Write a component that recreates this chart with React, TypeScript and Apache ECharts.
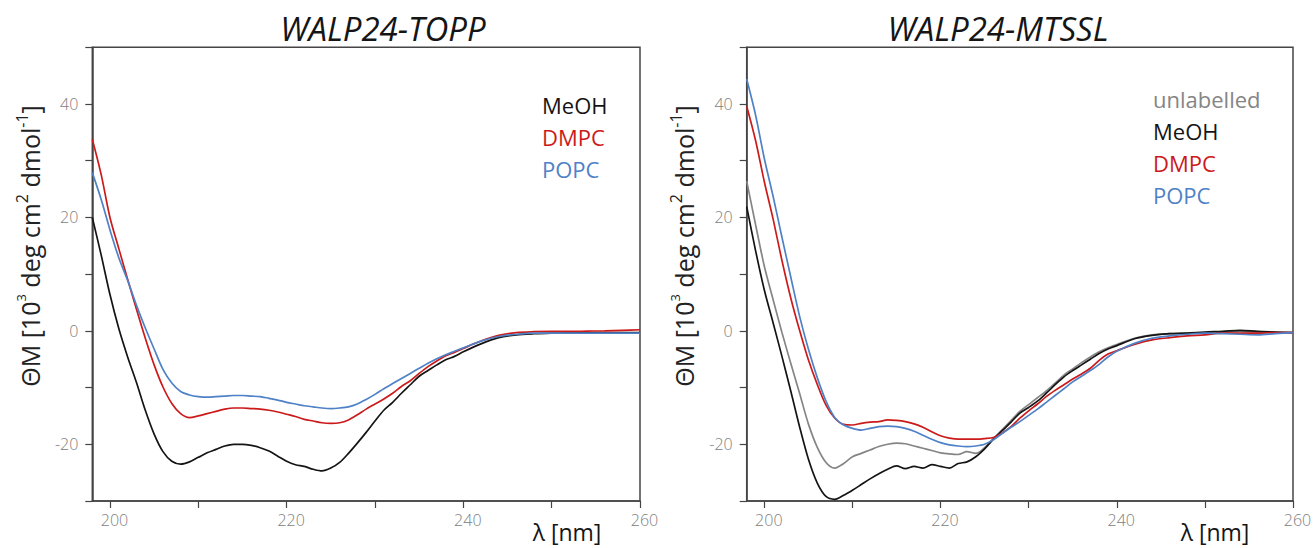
import React, { useEffect, useRef } from "react";
import * as echarts from "echarts";

const FONT = "'Open Sans', 'Noto Sans', sans-serif";

// Wavelength grid (nm)
const LAMBDA = [
  198, 199, 200, 201, 202, 203, 204, 205, 206, 207,
  208, 209, 210, 211, 212, 213, 214, 215, 216, 217,
  218, 219, 220, 221, 222, 223, 224, 225, 226, 227,
  228, 229, 230, 231, 232, 233, 234, 235, 236, 237,
  238, 239, 240, 242, 244, 246, 248, 250, 252, 254,
  256, 258, 260,
];

// WALP24-TOPP
const TOPP_MEOH = [
  20, 13.4, 6.4, 0.4, -4.6, -9.1, -14, -18.2, -21.3, -23,
  -23.5, -23.1, -22.3, -21.5, -20.9, -20.3, -20, -20, -20.2, -20.6,
  -21.2, -22.1, -23, -23.6, -23.9, -24.4, -24.7, -24.2, -23.2, -21.6,
  -19.8, -17.9, -15.9, -14, -12.6, -11, -9.5, -8, -7, -6,
  -5.1, -4.5, -3.7, -2.3, -1.2, -0.7, -0.5, -0.4, -0.35, -0.35,
  -0.3, -0.3, -0.3,
];
const TOPP_DMPC = [
  33.8, 27.6, 20, 14.5, 9.1, 3.8, -1.3, -6, -9.9, -12.8,
  -14.6, -15.3, -15, -14.6, -14.2, -13.8, -13.6, -13.6, -13.7, -13.8,
  -14, -14.3, -14.7, -15.1, -15.6, -15.9, -16.2, -16.3, -16.2, -15.7,
  -14.8, -13.8, -12.9, -12, -11, -9.8, -8.8, -7.5, -6.3, -5.3,
  -4.4, -3.8, -3.1, -1.8, -0.8, -0.3, -0.15, -0.1, -0.1, -0.05,
  0, 0.1, 0.2,
];
const TOPP_POPC = [
  27.9, 23.2, 17.8, 12.9, 8.9, 4.5, 0.5, -3.2, -6.8, -9.2,
  -10.7, -11.3, -11.6, -11.7, -11.6, -11.5, -11.4, -11.4, -11.5, -11.6,
  -11.9, -12.2, -12.6, -12.9, -13.2, -13.4, -13.6, -13.7, -13.6, -13.4,
  -12.9, -12.1, -11.2, -10.2, -9.3, -8.4, -7.5, -6.6, -5.7, -4.9,
  -4.2, -3.6, -3, -1.8, -1, -0.6, -0.4, -0.4, -0.4, -0.4,
  -0.4, -0.4, -0.4,
];

// WALP24-MTSSL
const MTSSL_UNLAB = [
  26.4, 18.8, 11.4, 5.5, -0.3, -5.7, -11, -16.4, -20.5, -23.2,
  -24.2, -23.4, -22.2, -21.6, -21, -20.4, -20, -19.8, -19.9, -20.3,
  -20.7, -21.1, -21.5, -21.7, -21.8, -21.3, -21.6, -20.6, -19, -17.4,
  -15.8, -14.2, -13, -11.8, -10.6, -9.2, -7.8, -6.7, -5.6, -4.6,
  -3.7, -3, -2.4, -1.3, -0.7, -0.5, -0.4, -0.3, -0.2, -0.1,
  -0.2, -0.3, -0.3,
];
const MTSSL_MEOH = [
  21.9, 14.2, 7.2, 1.4, -4.5, -10.6, -16.9, -22.6, -26.8, -29.2,
  -29.7, -29, -28.1, -27.1, -26.1, -25.2, -24.4, -23.8, -24.3, -23.9,
  -24.2, -23.6, -23.9, -24.2, -23.4, -23.1, -22.2, -20.8, -19.1, -17.6,
  -16.1, -14.5, -13.5, -12.4, -11, -9.5, -8.1, -7, -6, -5,
  -4, -3.2, -2.6, -1.4, -0.8, -0.5, -0.4, -0.2, -0.1, 0.1,
  -0.1, -0.2, -0.3,
];
const MTSSL_DMPC = [
  39.6, 33.6, 26.3, 19.7, 12.4, 5.8, 0.1, -5.1, -9.4, -13.1,
  -15.4, -16.5, -16.6, -16.3, -16.1, -16, -15.7, -15.8, -16, -16.4,
  -17, -17.8, -18.5, -18.9, -19.1, -19.1, -19.1, -19, -18.8, -18,
  -16.9, -15.4, -14.1, -12.9, -11.6, -10.5, -9.5, -8.5, -7.6, -6.6,
  -5.2, -4.1, -3.5, -2.4, -1.6, -1.2, -0.9, -0.7, -0.4, -0.4,
  -0.4, -0.3, -0.3,
];
const MTSSL_POPC = [
  44.4, 38.1, 30.4, 23.7, 16.5, 9.5, 2.6, -3.2, -8.2, -12.4,
  -15.3, -16.6, -17.2, -17.5, -17.2, -16.9, -16.8, -16.9, -17.2, -17.7,
  -18.4, -19.1, -19.7, -20.1, -20.3, -20.4, -20.3, -20, -19.2, -18.1,
  -17, -16, -14.9, -13.8, -12.6, -11.4, -10.2, -9, -8, -7,
  -5.9, -4.6, -3.6, -2.2, -1.3, -0.9, -0.6, -0.4, -0.5, -0.6,
  -0.7, -0.5, -0.3,
];

const X_TICKS = [200, 210, 220, 230, 240, 250, 260];
const X_LABELS = [200, 220, 240, 260];
const Y_LABELS = [-20, 0, 20, 40];

const TITLES = ["WALP24-TOPP", "WALP24-MTSSL"];
const LEGEND_TOPP = ["MeOH", "DMPC", "POPC"];
const LEGEND_MTSSL = ["unlabelled", "MeOH", "DMPC", "POPC"];

const COLORS: Record<string, string> = {
  unlabelled: "#858585",
  MeOH: "#141414",
  DMPC: "#cc1a1a",
  POPC: "#4f81c7",
};

const AXIS = "#454545";
const LABEL = "#808080";

const GRIDS = [
  { left: 92.3, top: 47.3, width: 547.7, height: 453.7 },
  { left: 746.7, top: 47.3, width: 546.3, height: 453.7 },
];

function pairs(ys: number[]) {
  return LAMBDA.map((x, i) => [x, ys[i]]);
}

function xAxis(gridIndex: number) {
  return {
    type: "value",
    gridIndex,
    min: 198,
    max: 260,
    axisLine: { show: true, onZero: false, lineStyle: { color: AXIS, width: 1.5 } },
    axisTick: { show: true, length: 7, customValues: X_TICKS, lineStyle: { color: AXIS, width: 1.2 } },
    axisLabel: {
      customValues: X_LABELS,
      margin: 11,
      color: LABEL,
      fontSize: 16,
      fontWeight: 300,
      fontFamily: FONT,
      padding: [0, 0, 0, 9],
    },
    splitLine: { show: false },
  };
}

function yAxis(gridIndex: number) {
  return {
    type: "value",
    gridIndex,
    min: -30,
    max: 50,
    interval: 10,
    axisLine: { show: true, onZero: false, lineStyle: { color: AXIS, width: 1.5 } },
    axisTick: { show: true, length: 7, lineStyle: { color: AXIS, width: 1.2 } },
    axisLabel: {
      margin: 14,
      color: LABEL,
      fontSize: 16,
      fontWeight: 300,
      fontFamily: FONT,
      formatter: (v: number) => (Y_LABELS.includes(v) ? String(v) : ""),
    },
    splitLine: { show: false },
  };
}

function line(name: string, ys: number[], idx: number) {
  return {
    type: "line",
    name,
    xAxisIndex: idx,
    yAxisIndex: idx,
    data: pairs(ys),
    showSymbol: false,
    smooth: 0.3,
    lineStyle: { color: COLORS[name], width: 1.7 },
    itemStyle: { color: COLORS[name] },
  };
}

function legend(names: string[], left: number, top: number) {
  return {
    orient: "vertical",
    left,
    top,
    icon: "none",
    itemWidth: 0,
    itemHeight: 14,
    itemGap: 10,
    selectedMode: false,
    textStyle: { fontSize: 22, fontFamily: FONT },
    data: names.map((n) => ({ name: n, textStyle: { color: COLORS[n], fontSize: 22, fontFamily: FONT } })),
  };
}

const Y_NAME = "{a|ΘM [10}{b|3}{a| deg cm}{c|2}{a| dmol}{c|-1}{a|]}";
const Y_RICH = {
  a: { fontSize: 25, fontFamily: FONT, fill: "#222", lineHeight: 32 },
  b: { fontSize: 13, fontFamily: FONT, fill: "#222", lineHeight: 18, verticalAlign: "top" },
  c: { fontSize: 16, fontFamily: FONT, fill: "#222", lineHeight: 18, verticalAlign: "top" },
};

function yName(x: number, y: number) {
  return {
    type: "text",
    x,
    y,
    rotation: Math.PI / 2,
    style: { text: Y_NAME, rich: Y_RICH, align: "center", verticalAlign: "middle" },
  };
}

function textEl(text: string, x: number, y: number, size: number, italic = false) {
  return {
    type: "text",
    x,
    y,
    style: {
      text,
      fontSize: size,
      fontFamily: FONT,
      fontStyle: italic ? "italic" : "normal",
      fill: "#151515",
      align: "center",
      verticalAlign: "middle",
    },
  };
}

const option = {
  animation: false,
  backgroundColor: "#ffffff",
  grid: GRIDS.map((g) => ({ ...g, show: true, borderColor: AXIS, borderWidth: 1.5, backgroundColor: "transparent" })),
  xAxis: [xAxis(0), xAxis(1)],
  yAxis: [yAxis(0), yAxis(1)],
  legend: [legend(LEGEND_TOPP, 532, 89), legend(LEGEND_MTSSL, 1143, 83)],
  series: [
    line("MeOH", TOPP_MEOH, 0),
    line("DMPC", TOPP_DMPC, 0),
    line("POPC", TOPP_POPC, 0),
    line("unlabelled", MTSSL_UNLAB, 1),
    line("MeOH", MTSSL_MEOH, 1),
    line("DMPC", MTSSL_DMPC, 1),
    line("POPC", MTSSL_POPC, 1),
  ],
  graphic: [
    textEl(TITLES[0], 383, 28, 33, true),
    textEl(TITLES[1], 998, 28, 33, true),
    textEl("λ [nm]", 567, 532, 23),
    textEl("λ [nm]", 1215, 532, 23),
    yName(30, 246),
    yName(684, 246),
  ],
};

export default function App() {
  const ref = useRef<HTMLDivElement>(null);
  useEffect(() => {
    document.body.style.margin = "0";
    const chart = echarts.init(ref.current!, null, { renderer: "svg" });
    chart.setOption(option as any);
    return () => chart.dispose();
  }, []);
  return <div ref={ref} style={{ width: 1316, height: 548 }} />;
}
